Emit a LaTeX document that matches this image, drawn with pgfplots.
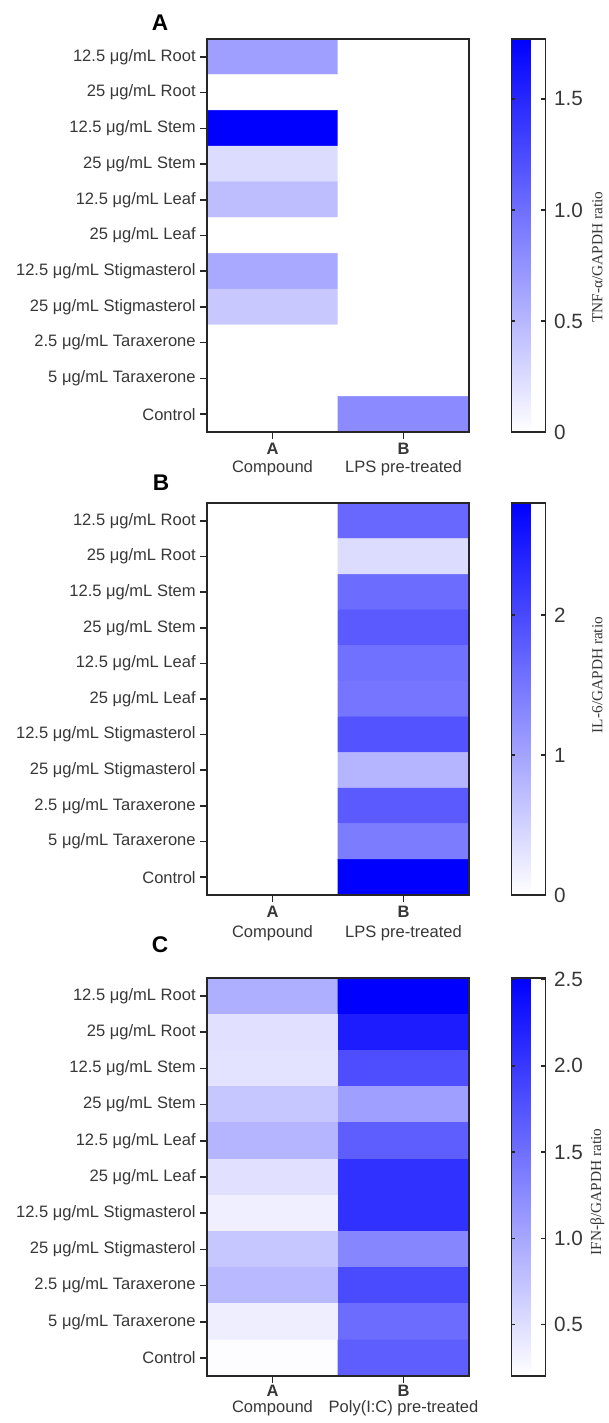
\documentclass[border=0pt]{standalone}
\usepackage{pgfplots}
\pgfplotsset{compat=1.18}
\usepackage{fontspec}
\setmainfont{Liberation Sans}
\newfontfamily\seriffont{Liberation Serif}
\definecolor{txt}{RGB}{55,55,55}
\pgfplotsset{
  colormap={wb}{rgb255=(255,255,255) rgb255=(0,0,255)},
  heat/.style={
    scale only axis,
    axis on top,
    anchor=north west,
    width=196.5pt,
    xmin=-0.5, xmax=1.5, ymin=-0.5, ymax=10.5,
    y dir=reverse,
    axis line style={line width=1.2pt, black!85},
    xtick={0,1}, ytick={0,...,10},
    yticklabels={12.5 μg/mL Root,25 μg/mL Root,12.5 μg/mL Stem,25 μg/mL Stem,12.5 μg/mL Leaf,25 μg/mL Leaf,12.5 μg/mL Stigmasterol,25 μg/mL Stigmasterol,2.5 μg/mL Taraxerone,5 μg/mL Taraxerone,Control},
    tick align=outside, xtick pos=bottom, ytick pos=left,
    major tick length=5pt,
    tick style={line width=1.2pt, black!85},
    ticklabel style={font=\fontsize{12.4}{13}\selectfont, text=txt},
    xticklabel style={align=center},
    enlargelimits=false,
    colorbar,
    colorbar style={
      scale only axis,
      axis on top,
      at={(parent axis.north east)}, anchor=north west, xshift=23.25pt,
      width=25.5pt,
      axis line style={line width=1.2pt, black!85},
      ytick pos=both, yticklabel pos=right, tick align=inside,
      major tick length=3pt,
      tick style={line width=1pt, black!85},
      yticklabel style={font=\fontsize{15.5}{16}\selectfont, text=txt, xshift=3pt},
      /pgf/number format/assume math mode=true,
    },
  },
}
\begin{document}
\begin{tikzpicture}
\useasboundingbox (0,0) rectangle (456.75pt,-1067.25pt);
% Panel A
\begin{axis}[heat, at={(155.25pt,-29.25pt)}, height=294.75pt,
  point meta min=0, point meta max=1.77,
  xticklabels={\textbf{A}\\Compound, \textbf{B}\\LPS pre-treated},
  xticklabel style={align=center, font=\fontsize{12.4}{13.5}\selectfont},
  colorbar style={ytick={0,0.5,1.0,1.5}, yticklabels={0,0.5,1.0,1.5}}]
\addplot[matrix plot*, mesh/cols=2, point meta=explicit] table[meta=c] {
x y c
0 0 0.66
1 0 0
0 1 0
1 1 0
0 2 1.77
1 2 0
0 3 0.24
1 3 0
0 4 0.45
1 4 0
0 5 0
1 5 0
0 6 0.59
1 6 0
0 7 0.38
1 7 0
0 8 0
1 8 0
0 9 0
1 9 0
0 10 0
1 10 0.80
};
\end{axis}
% Panel B
\begin{axis}[heat, at={(155.25pt,-377.25pt)}, height=294pt,
  point meta min=0, point meta max=2.8,
  xticklabels={\textbf{A}\\Compound, \textbf{B}\\LPS pre-treated},
  xticklabel style={align=center, font=\fontsize{12.4}{14.5}\selectfont},
  colorbar style={ytick={0,1,2}}]
\addplot[matrix plot*, mesh/cols=2, point meta=explicit] table[meta=c] {
x y c
0 0 0
1 0 1.65
0 1 0
1 1 0.38
0 2 0
1 2 1.60
0 3 0
1 3 1.80
0 4 0
1 4 1.55
0 5 0
1 5 1.50
0 6 0
1 6 1.87
0 7 0
1 7 0.82
0 8 0
1 8 1.80
0 9 0
1 9 1.43
0 10 0
1 10 2.80
};
\end{axis}
% Panel C
\begin{axis}[heat, at={(155.25pt,-733.5pt)}, height=298.5pt,
  point meta min=0.2, point meta max=2.51,
  xticklabels={\textbf{A}\\Compound, \textbf{B}\\Poly(I:C) pre-treated},
  xticklabel style={align=center, font=\fontsize{12.4}{12.5}\selectfont, yshift=2pt},
  colorbar style={ytick={0.5,1.0,1.5,2.0,2.5}, yticklabels={0.5,1.0,1.5,2.0,2.5}}]
\addplot[matrix plot*, mesh/cols=2, point meta=explicit] table[meta=c] {
x y c
0 0 0.92
1 0 2.50
0 1 0.47
1 1 2.24
0 2 0.45
1 2 1.79
0 3 0.70
1 3 1.06
0 4 0.87
1 4 1.65
0 5 0.47
1 5 2.05
0 6 0.34
1 6 2.05
0 7 0.70
1 7 1.29
0 8 0.83
1 8 1.83
0 9 0.35
1 9 1.52
0 10 0.22
1 10 1.65
};
\end{axis}
% titles
\node[font=\fontsize{17}{17}\selectfont\bfseries] at (120pt,-17.25pt) {A};
\node[font=\fontsize{17}{17}\selectfont\bfseries] at (120.75pt,-362.25pt) {B};
\node[font=\fontsize{17}{17}\selectfont\bfseries] at (120pt,-708.75pt) {C};
% colorbar labels
\node[rotate=90, font=\seriffont\fontsize{11.5}{12}\selectfont, text=txt] at (448pt,-192.75pt) {TNF-α/GAPDH ratio};
\node[rotate=90, font=\seriffont\fontsize{11.5}{12}\selectfont, text=txt] at (448pt,-506.25pt) {IL-6/GAPDH ratio};
\node[rotate=90, font=\seriffont\fontsize{11.5}{12}\selectfont, text=txt] at (448pt,-894pt) {IFN-β/GAPDH ratio};
\end{tikzpicture}
\end{document}
